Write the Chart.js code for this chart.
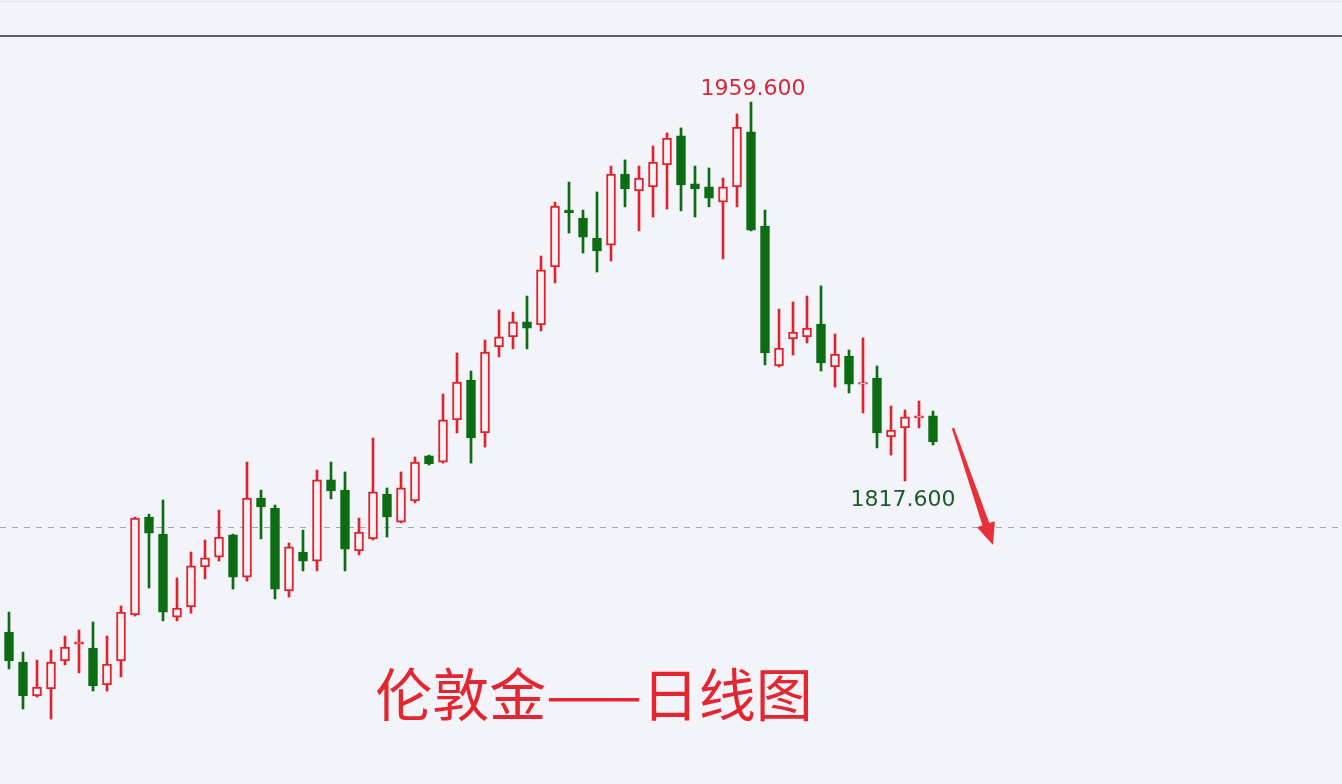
<!DOCTYPE html>
<html><head><meta charset="utf-8">
<script src="https://cdn.jsdelivr.net/npm/chart.js@4.4.1/dist/chart.umd.min.js"></script>
<style>html,body{margin:0;padding:0;background:#f3f4f9;overflow:hidden}canvas{display:block}</style>
</head><body>
<canvas id="c" width="1342" height="784"></canvas>
<script>
const days = ['1','2','3','4','5','6','7','8','9','10','11','12','13','14','15','16','17','18','19','20','21','22','23','24','25','26','27','28','29','30','31','32','33','34','35','36','37','38','39','40','41','42','43','44','45','46','47','48','49','50','51','52','53','54','55','56','57','58','59','60','61','62','63','64','65','66','67'];
const openVals = [
1761.0,1749.8,1737.1,1739.7,1750.2,1756.5,1755.0,1741.2,1750.2,1767.4,
1804.1,1797.7,1766.6,1770.4,1785.4,1789.1,1797.4,1781.6,1811.2,1807.5,
1776.4,1791.0,1787.6,1818.0,1814.2,1791.4,1795.9,1812.7,1802.2,1810.1,
1827.0,1824.7,1840.5,1855.4,1835.6,1867.8,1871.6,1877.2,1876.1,1897.8,
1919.1,1916.1,1908.6,1906.0,1932.6,1926.3,1927.8,1936.0,1946.9,1928.9,
1927.8,1922.1,1927.8,1948.4,1913.1,1860.7,1870.8,1871.6,1876.4,1860.3,
1864.4,1853.9,1856.2,1834.1,1837.5,1841.2,1842.0];
const highVals = [
1768.5,1753.5,1750.5,1754.3,1759.5,1761.8,1764.8,1759.5,1770.8,1804.1,
1805.2,1810.5,1781.3,1791.0,1795.5,1806.7,1797.7,1824.7,1814.2,1808.6,
1794.4,1799.2,1821.7,1824.7,1821.0,1803.7,1833.7,1815.0,1821.0,1826.6,
1827.3,1850.2,1865.6,1858.8,1870.4,1881.7,1880.9,1886.9,1901.9,1922.1,
1929.6,1919.1,1925.9,1935.6,1937.9,1935.6,1943.1,1948.0,1949.9,1935.6,
1934.9,1931.1,1955.1,1959.6,1919.1,1882.0,1884.7,1886.9,1890.7,1872.7,
1866.7,1871.2,1860.7,1845.7,1844.2,1847.6,1843.8];
const lowVals = [
1747.2,1732.2,1736.7,1728.4,1748.7,1745.7,1738.9,1738.9,1744.2,1767.0,
1777.5,1765.2,1765.2,1768.1,1780.9,1787.6,1777.1,1780.1,1795.9,1773.4,
1774.1,1783.9,1783.9,1810.9,1783.9,1789.9,1795.5,1796.6,1801.9,1809.4,
1823.6,1824.3,1835.6,1824.3,1830.3,1864.1,1867.1,1867.1,1873.8,1891.8,
1910.5,1903.0,1895.9,1900.0,1920.3,1911.3,1916.5,1919.5,1918.8,1916.5,
1920.3,1900.8,1920.3,1911.3,1861.1,1860.3,1864.8,1869.3,1858.8,1852.8,
1850.6,1843.1,1830.0,1827.3,1817.6,1837.5,1831.1];
const closeVals = [
1750.2,1737.1,1740.4,1749.8,1755.4,1757.3,1740.8,1749.0,1768.5,1803.7,
1798.1,1768.5,1770.0,1785.8,1788.8,1796.6,1781.6,1811.2,1807.9,1777.1,
1792.9,1787.6,1818.0,1813.9,1792.1,1798.5,1813.5,1804.1,1815.0,1824.7,
1824.0,1840.5,1854.7,1833.7,1865.9,1871.6,1877.2,1874.9,1896.7,1920.6,
1918.0,1909.0,1903.8,1932.6,1927.0,1931.1,1937.1,1946.1,1928.5,1927.0,
1923.6,1927.8,1950.2,1911.6,1865.6,1867.4,1873.4,1874.9,1861.8,1865.2,
1853.9,1854.5,1835.6,1836.7,1841.6,1842.0,1832.2];
const refPrice = 1800.4;
const yMin = 1704.08, yMax = 1984.33;
const chartTitle = '伦敦金——日线图';

const UP = '#e0242e', DOWN = '#0b6c12', BG = '#f3f4f9';
const rising = openVals.map((o, i) => closeVals[i] >= o);
const bodies = openVals.map((o, i) => [o, closeVals[i]]);
const wicks = lowVals.map((l, i) => [l, highVals[i]]);

const decor = {
  id: 'decor',
  beforeDraw(chart) {
    const ctx = chart.ctx, W = chart.width, H = chart.height, a = chart.chartArea;
    ctx.save();
    ctx.fillStyle = BG; ctx.fillRect(0, 0, W, H);
    ctx.fillStyle = '#e2e4ea'; ctx.fillRect(0, 1, W, 1);
    ctx.fillStyle = '#5d6068'; ctx.fillRect(0, a.top - 1, W, 2);
    const y = Math.round(chart.scales.y.getPixelForValue(refPrice)) + 0.5;
    ctx.strokeStyle = '#a3a8b0'; ctx.lineWidth = 1; ctx.setLineDash([6, 6]);
    ctx.beginPath(); ctx.moveTo(0, y); ctx.lineTo(W, y); ctx.stroke();
    ctx.restore();
  },
  afterDatasetsDraw(chart) {
    const ctx = chart.ctx, xs = chart.scales.x, ys = chart.scales.y;
    let iMax = 0;
    highVals.forEach((v, i) => { if (v > highVals[iMax]) iMax = i; });
    let iMin = iMax;
    lowVals.forEach((v, i) => { if (i > iMax && v < lowVals[iMin]) iMin = i; });
    ctx.save();
    ctx.font = '22px "DejaVu Sans"';
    ctx.textAlign = 'center';
    ctx.textBaseline = 'alphabetic';
    ctx.fillStyle = '#d5283a';
    ctx.fillText(highVals[iMax].toFixed(3), xs.getPixelForValue(iMax) + 2, ys.getPixelForValue(highVals[iMax]) - 7);
    ctx.fillStyle = '#1e5a2c';
    ctx.fillText(lowVals[iMin].toFixed(3), xs.getPixelForValue(iMin) - 2, ys.getPixelForValue(lowVals[iMin]) + 25);

    ctx.font = '57px "Noto Sans CJK SC"';
    ctx.fillStyle = '#e3262f';
    ctx.textBaseline = 'middle';
    ctx.fillText(chartTitle, 594, 694);

    // trend arrow after the last candle
    const last = days.length - 1;
    const tx = xs.getPixelForValue(last) + 20, ty = ys.getPixelForValue(highVals[last]) + 17;
    const px = tx + 40, py = ty + 117;
    const dx = px - tx, dy = py - ty, L = Math.hypot(dx, dy);
    const ux = dx / L, uy = dy / L, nx = -uy, ny = ux;
    const bx = px - 22 * ux, by = py - 22 * uy;
    ctx.fillStyle = '#e8303a';
    ctx.beginPath();
    ctx.moveTo(tx + nx * 1.2, ty + ny * 1.2);
    ctx.lineTo(bx + nx * 3.6, by + ny * 3.6);
    ctx.lineTo(bx + nx * 9.5, by + ny * 9.5);
    ctx.lineTo(px, py);
    ctx.lineTo(bx - nx * 9.5, by - ny * 9.5);
    ctx.lineTo(bx - nx * 3.6, by - ny * 3.6);
    ctx.lineTo(tx - nx * 1.2, ty - ny * 1.2);
    ctx.closePath(); ctx.fill();
    ctx.restore();
  }
};

new Chart(document.getElementById('c'), {
  type: 'bar',
  data: {
    labels: days,
    datasets: [
      {
        label: 'body',
        data: bodies,
        grouped: false,
        barThickness: 9,
        borderWidth: 2,
        borderSkipped: false,
        borderColor: rising.map(r => r ? UP : DOWN),
        backgroundColor: rising.map(r => r ? BG : DOWN)
      },
      {
        label: 'wick',
        data: wicks,
        grouped: false,
        barThickness: 2,
        borderWidth: 0,
        borderSkipped: false,
        backgroundColor: rising.map(r => r ? UP : DOWN)
      }
    ]
  },
  options: {
    responsive: false,
    animation: false,
    devicePixelRatio: 1,
    layout: { padding: { left: 2, right: 402, top: 36, bottom: 0 } },
    plugins: { legend: { display: false }, tooltip: { enabled: false } },
    scales: {
      x: { type: 'category', display: false, offset: true, grid: { display: false } },
      y: { display: false, min: yMin, max: yMax, grid: { display: false } }
    }
  },
  plugins: [decor]
});
</script>
</body></html>
